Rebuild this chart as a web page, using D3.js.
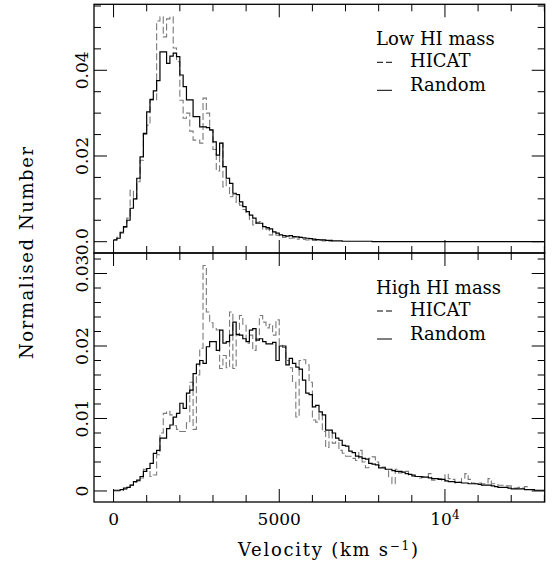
<!DOCTYPE html>
<html>
<head>
<meta charset="utf-8">
<title>HICAT velocity histograms</title>
<script src="https://cdn.jsdelivr.net/npm/d3@7"></script>
<style>
  body { margin: 0; background: #fff; }
  svg text { font-family: "DejaVu Serif", "Liberation Serif", serif; fill: #000; }
</style>
</head>
<body>
<svg id="chart" width="558" height="571"></svg>
<script>
// bin width of the histograms (km/s), bins start at 0
var binWidth = 100;

// Low HI mass panel
var lowRandom = [
  0.0004, 0.0008, 0.0022, 0.0035, 0.0050, 0.0078, 0.0100, 0.0148, 0.0198, 0.0253,
  0.0303, 0.0332, 0.0352, 0.0376, 0.0443, 0.0443, 0.0416, 0.0433, 0.0440, 0.0432,
  0.0389, 0.0362, 0.0331, 0.0331, 0.0292, 0.0292, 0.0268, 0.0268, 0.0266, 0.0261,
  0.0233, 0.0202, 0.0230, 0.0175, 0.0148, 0.0136, 0.0113, 0.0110, 0.0093, 0.0082,
  0.0070, 0.0062, 0.0055, 0.0043, 0.0043, 0.0035, 0.0033, 0.0030, 0.0023, 0.0020,
  0.0016, 0.0014, 0.0013, 0.0014, 0.0012, 0.0011, 0.0010, 0.0009, 0.0008, 0.0007,
  0.0006, 0.0005, 0.0004, 0.0004, 0.0003, 0.0003, 0.0002, 0.0002, 0.0002, 0.0001,
  0.0001, 0.0001, 0.0001, 0.0001, 0.0001, 0.0001, 0.0001, 0.0001, 0, 0,
  0, 0, 0, 0, 0, 0, 0, 0, 0, 0,
  0, 0, 0, 0, 0, 0, 0, 0, 0, 0,
  0, 0, 0, 0, 0, 0, 0, 0, 0, 0,
  0, 0, 0, 0, 0, 0, 0, 0, 0, 0,
  0, 0, 0, 0, 0, 0, 0, 0, 0, 0
];
var lowHicat = [
  0.0004, 0.0010, 0.0020, 0.0033, 0.0055, 0.0120, 0.0100, 0.0140, 0.0190, 0.0250,
  0.0272, 0.0330, 0.0330, 0.0515, 0.0525, 0.0478, 0.0520, 0.0525, 0.0452, 0.0420,
  0.0330, 0.0288, 0.0300, 0.0258, 0.0237, 0.0237, 0.0230, 0.0335, 0.0300, 0.0260,
  0.0215, 0.0165, 0.0230, 0.0128, 0.0148, 0.0105, 0.0110, 0.0089, 0.0085, 0.0075,
  0.0065, 0.0052, 0.0039, 0.0045, 0.0047, 0.0028, 0.0030, 0.0016, 0.0022, 0.0015,
  0.0012, 0.0010, 0.0012, 0.0008, 0.0009, 0.0006, 0.0010, 0.0005, 0.0004, 0.0006,
  0.0003, 0.0003, 0.0004, 0.0002, 0.0002, 0.0001
];

// High HI mass panel
var highRandom = [
  0.0001, 0.0001, 0.0002, 0.0004, 0.0005, 0.0008, 0.0013, 0.0015, 0.0020, 0.0027,
  0.0031, 0.0038, 0.0052, 0.0056, 0.0073, 0.0073, 0.0086, 0.0091, 0.0102, 0.0107,
  0.0121, 0.0114, 0.0135, 0.0139, 0.0162, 0.0175, 0.0180, 0.0176, 0.0199, 0.0206,
  0.0206, 0.0194, 0.0222, 0.0204, 0.0206, 0.0215, 0.0233, 0.0216, 0.0215, 0.0210,
  0.0206, 0.0222, 0.0224, 0.0208, 0.0210, 0.0206, 0.0203, 0.0203, 0.0205, 0.0180,
  0.0200, 0.0200, 0.0174, 0.0183, 0.0176, 0.0171, 0.0168, 0.0153, 0.0135, 0.0133,
  0.0116, 0.0118, 0.0109, 0.0105, 0.0084, 0.0084, 0.0080, 0.0073, 0.0070, 0.0063,
  0.0062, 0.0055, 0.0053, 0.0048, 0.0047, 0.0045, 0.0044, 0.0038, 0.0037, 0.0036,
  0.0032, 0.0032, 0.0030, 0.0030, 0.0028, 0.0027, 0.0027, 0.0026, 0.0024, 0.0023,
  0.0022, 0.0020, 0.0020, 0.0019, 0.0019, 0.0018, 0.0017, 0.0017, 0.0016, 0.0016,
  0.0014, 0.0013, 0.0013, 0.0012, 0.0012, 0.0011, 0.0011, 0.0010, 0.0010, 0.0010,
  0.0009, 0.0008, 0.0008, 0.0008, 0.0007, 0.0006, 0.0005, 0.0005, 0.0005, 0.0004,
  0.0003, 0.0003, 0.0003, 0.0003, 0.0002, 0.0002, 0.0002, 0.0001, 0.0001, 0.0001
];
var highHicat = [
  0, 0, 0, 0.0002, 0.0004, 0.0008, 0.0012, 0.0014, 0.0018, 0.0030,
  0.0028, 0.0020, 0.0022, 0.0050, 0.0080, 0.0107, 0.0110, 0.0105, 0.0090, 0.0085,
  0.0082, 0.0082, 0.0094, 0.0150, 0.0085, 0.0160, 0.0197, 0.0311, 0.0247, 0.0232,
  0.0224, 0.0222, 0.0169, 0.0187, 0.0170, 0.0247, 0.0169, 0.0215, 0.0242, 0.0230,
  0.0204, 0.0215, 0.0194, 0.0210, 0.0242, 0.0233, 0.0225, 0.0230, 0.0215, 0.0236,
  0.0201, 0.0198, 0.0180, 0.0170, 0.0150, 0.0102, 0.0180, 0.0181, 0.0174, 0.0150,
  0.0098, 0.0095, 0.0107, 0.0082, 0.0060, 0.0082, 0.0066, 0.0068, 0.0056, 0.0052,
  0.0048, 0.0048, 0.0045, 0.0042, 0.0056, 0.0040, 0.0032, 0.0045, 0.0047, 0.0040,
  0.0035, 0.0033, 0.0030, 0.0019, 0.0010, 0.0030, 0.0025, 0.0026, 0.0027, 0.0022,
  0.0020, 0.0020, 0.0018, 0.0020, 0.0020, 0.0024, 0.0015, 0.0016, 0.0017, 0.0014,
  0.0023, 0.0017, 0.0016, 0.0011, 0.0012, 0.0017, 0.0024, 0.0016, 0.0011, 0.0010,
  0.0011, 0.0010, 0.0011, 0.0017, 0.0010, 0.0009, 0.0008, 0.0008, 0.0007, 0.0007,
  0.0004, 0.0004, 0.0005, 0.0004, 0.0006, 0.0002
];

var xMajor = [0, 5000, 10000];
var xMajorLabels = ["0", "5000", "10^4"];

var panels = [
  { title: "Low HI mass", random: lowRandom, hicat: lowHicat,
    ydom: [-0.00264, 0.0554], major: [0, 0.02, 0.04], labels: ["0.0", "0.02", "0.04"], minorStep: 0.005 },
  { title: "High HI mass", random: highRandom, hicat: highHicat,
    ydom: [-0.00152, 0.03283], major: [0, 0.01, 0.02, 0.03], labels: ["0", "0.01", "0.02", "0.03"], minorStep: 0.002 }
];

var svg = d3.select("#chart");
var left = 94, right = 544.7;
var tops = [4.3, 253], bottoms = [253, 502];

var x = d3.scaleLinear().domain([-590, 13010]).range([left, right]);

function stepPoints(vals) {
  var pts = vals.map(function (v, i) { return [i * binWidth, v]; });
  pts.push([vals.length * binWidth, vals[vals.length - 1]]);
  return pts;
}

panels.forEach(function (p, k) {
  var y = d3.scaleLinear().domain(p.ydom).range([bottoms[k], tops[k]]);
  var g = svg.append("g");

  var line = d3.line()
    .x(function (d) { return x(d[0]); })
    .y(function (d) { return y(d[1]); })
    .curve(d3.curveStepAfter);

  g.append("path").attr("d", line(stepPoints(p.hicat)))
    .attr("fill", "none").attr("stroke", "#7a7a7a").attr("stroke-width", 1.1)
    .attr("stroke-dasharray", "7,3");
  g.append("path").attr("d", line(stepPoints(p.random)))
    .attr("fill", "none").attr("stroke", "#000").attr("stroke-width", 1.2);

  // y ticks, both sides
  var minor = d3.range(0, p.ydom[1], p.minorStep);
  minor.forEach(function (v) {
    var isMajor = p.major.some(function (m) { return Math.abs(m - v) < 1e-9; });
    var len = isMajor ? 13 : 7;
    g.append("line").attr("x1", left).attr("x2", left + len)
      .attr("y1", y(v)).attr("y2", y(v)).attr("stroke", "#000").attr("stroke-width", 1);
    g.append("line").attr("x1", right).attr("x2", right - len)
      .attr("y1", y(v)).attr("y2", y(v)).attr("stroke", "#000").attr("stroke-width", 1);
  });
  p.major.forEach(function (v, i) {
    g.append("text")
      .attr("transform", "translate(88," + y(v) + ") rotate(-90)")
      .attr("text-anchor", "middle").attr("font-size", 17)
      .text(p.labels[i]);
  });

  // x ticks on top and bottom edges of the panel
  d3.range(0, 13001, 1000).forEach(function (v) {
    var len = (v % 5000 === 0) ? 13 : 7;
    g.append("line").attr("x1", x(v)).attr("x2", x(v))
      .attr("y1", bottoms[k]).attr("y2", bottoms[k] - len).attr("stroke", "#000").attr("stroke-width", 1);
    g.append("line").attr("x1", x(v)).attr("x2", x(v))
      .attr("y1", tops[k]).attr("y2", tops[k] + len).attr("stroke", "#000").attr("stroke-width", 1);
  });

  // frame
  g.append("rect").attr("x", left).attr("y", tops[k])
    .attr("width", right - left).attr("height", bottoms[k] - tops[k])
    .attr("fill", "none").attr("stroke", "#000").attr("stroke-width", 1.3);

  // legend
  var ly = tops[k];
  g.append("text").attr("x", 376).attr("y", ly + 41).attr("font-size", 18)
    .text(p.title);
  g.append("line").attr("x1", 377).attr("x2", 392).attr("y1", ly + 58).attr("y2", ly + 58)
    .attr("stroke", "#000").attr("stroke-width", 1).attr("stroke-dasharray", "6,3");
  g.append("text").attr("x", 410).attr("y", ly + 63).attr("font-size", 18)
    .text("HICAT");
  g.append("line").attr("x1", 377).attr("x2", 392).attr("y1", ly + 86).attr("y2", ly + 86)
    .attr("stroke", "#000").attr("stroke-width", 1);
  g.append("text").attr("x", 410).attr("y", ly + 87).attr("font-size", 18)
    .text("Random");
});

// x tick labels
xMajor.forEach(function (v, i) {
  var t = svg.append("text").attr("x", x(v)).attr("y", 525)
    .attr("text-anchor", "middle").attr("font-size", 17);
  if (xMajorLabels[i] === "10^4") {
    t.append("tspan").text("10");
    t.append("tspan").attr("dy", -6).attr("font-size", 12).text("4");
  } else {
    t.text(xMajorLabels[i]);
  }
});

// axis titles
var xt = svg.append("text").attr("x", 328).attr("y", 556)
  .attr("text-anchor", "middle").attr("font-size", 18)
  .attr("textLength", 180).attr("lengthAdjust", "spacing");
xt.append("tspan").text("Velocity (km s");
xt.append("tspan").attr("dy", -6).attr("font-size", 12).text("\u22121");
xt.append("tspan").attr("dy", 6).text(")");

svg.append("text")
  .attr("transform", "translate(33,253) rotate(-90)")
  .attr("text-anchor", "middle").attr("font-size", 18)
  .attr("textLength", 212).attr("lengthAdjust", "spacing")
  .text("Normalised Number");
</script>
</body>
</html>
